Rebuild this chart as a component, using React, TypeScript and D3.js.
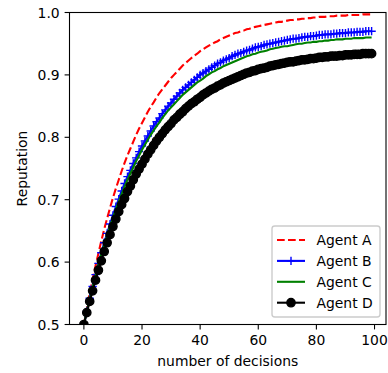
import React from 'react';
import * as d3 from 'd3';

const agentA = [0.500,0.525,0.549,0.572,0.594,0.614,0.634,0.653,0.670,0.687,
0.703,0.718,0.732,0.746,0.759,0.771,0.782,0.793,0.804,0.814,
0.823,0.832,0.841,0.849,0.856,0.864,0.871,0.877,0.883,0.889,
0.895,0.900,0.905,0.910,0.915,0.919,0.923,0.927,0.931,0.934,
0.938,0.941,0.944,0.947,0.949,0.952,0.954,0.957,0.959,0.961,
0.963,0.965,0.967,0.968,0.970,0.971,0.973,0.974,0.976,0.977,
0.978,0.979,0.980,0.981,0.982,0.983,0.984,0.985,0.985,0.986,
0.987,0.988,0.988,0.989,0.989,0.990,0.990,0.991,0.991,0.992,
0.992,0.993,0.993,0.993,0.994,0.994,0.994,0.995,0.995,0.995,
0.995,0.996,0.996,0.996,0.996,0.996,0.997,0.997,0.997,0.997];

const agentB = [0.500,0.521,0.542,0.561,0.580,0.598,0.615,0.631,0.646,0.661,
0.675,0.689,0.701,0.714,0.726,0.737,0.747,0.758,0.767,0.777,
0.786,0.794,0.802,0.810,0.818,0.825,0.831,0.838,0.844,0.850,
0.855,0.861,0.866,0.871,0.876,0.880,0.884,0.888,0.892,0.896,
0.900,0.903,0.906,0.909,0.912,0.915,0.918,0.920,0.923,0.925,
0.927,0.930,0.932,0.934,0.935,0.937,0.939,0.940,0.942,0.944,
0.945,0.946,0.948,0.949,0.950,0.951,0.952,0.953,0.954,0.955,
0.956,0.957,0.958,0.958,0.959,0.960,0.961,0.961,0.962,0.962,
0.963,0.964,0.964,0.965,0.965,0.965,0.966,0.966,0.967,0.967,
0.967,0.968,0.968,0.968,0.969,0.969,0.969,0.970,0.970,0.970];

const agentC = [0.500,0.521,0.541,0.560,0.578,0.596,0.612,0.628,0.643,0.658,
0.671,0.685,0.697,0.709,0.721,0.732,0.742,0.752,0.762,0.771,
0.780,0.788,0.796,0.804,0.811,0.818,0.824,0.831,0.837,0.843,
0.848,0.853,0.858,0.863,0.868,0.872,0.876,0.880,0.884,0.888,
0.891,0.894,0.898,0.901,0.904,0.906,0.909,0.911,0.914,0.916,
0.918,0.920,0.922,0.924,0.926,0.928,0.930,0.931,0.933,0.934,
0.936,0.937,0.938,0.939,0.941,0.942,0.943,0.944,0.945,0.946,
0.946,0.947,0.948,0.949,0.950,0.950,0.951,0.952,0.952,0.953,
0.953,0.954,0.954,0.955,0.955,0.956,0.956,0.957,0.957,0.957,
0.958,0.958,0.958,0.959,0.959,0.959,0.959,0.960,0.960,0.960];

const agentD = [0.500,0.519,0.537,0.554,0.571,0.587,0.602,0.617,0.631,0.644,
0.657,0.669,0.681,0.692,0.702,0.713,0.722,0.732,0.741,0.749,
0.757,0.765,0.773,0.780,0.787,0.794,0.800,0.806,0.812,0.817,
0.822,0.828,0.832,0.837,0.841,0.846,0.850,0.854,0.857,0.861,
0.864,0.868,0.871,0.874,0.877,0.879,0.882,0.884,0.887,0.889,
0.891,0.893,0.895,0.897,0.899,0.901,0.903,0.904,0.906,0.907,
0.909,0.910,0.911,0.912,0.914,0.915,0.916,0.917,0.918,0.919,
0.920,0.921,0.921,0.922,0.923,0.924,0.924,0.925,0.926,0.926,
0.927,0.928,0.928,0.929,0.929,0.930,0.930,0.930,0.931,0.931,
0.932,0.932,0.932,0.933,0.933,0.933,0.934,0.934,0.934,0.934];

const xTicks = [0, 20, 40, 60, 80, 100];
const yTicks = [0.5, 0.6, 0.7, 0.8, 0.9, 1.0];
const legendLabels = ['Agent A', 'Agent B', 'Agent C', 'Agent D'];
const xLabel = 'number of decisions';
const yLabel = 'Reputation';

const FONT = '"DejaVu Sans", sans-serif';
const FS = 13.9;

export default function App() {
  const W = 388, H = 373;
  const L = 69.5, R = 386, T = 12.5, B = 324.5;
  const x = d3.scaleLinear().domain([-4.95, 103.95]).range([L, R]);
  const y = d3.scaleLinear().domain([0.5, 1.0]).range([B, T]);
  const lineGen = d3.line<number>().x((_, i) => x(i)).y(d => y(d));
  const tickLen = 4.9;
  const ms = 8.3;
  const half = ms / 2;

  const plusPath = (cx: number, cy: number) =>
    `M${cx - half},${cy}H${cx + half}M${cx},${cy - half}V${cy + half}`;

  const legendRows = [
    { label: legendLabels[0], color: '#ff0000', dash: '7.7,3.3', marker: 'none' },
    { label: legendLabels[1], color: '#0000ff', dash: undefined, marker: 'plus' },
    { label: legendLabels[2], color: '#008000', dash: undefined, marker: 'none' },
    { label: legendLabels[3], color: '#000000', dash: undefined, marker: 'circle' },
  ];
  const lgL = 272, lgT = 226, lgR = 380, lgB = 317;
  const rowY = (i: number) => 240 + i * 20.9;
  const hx0 = 277, hx1 = 305;

  return (
    <svg width={W} height={H} style={{ position: 'absolute', left: 0, top: 0, background: '#fff' }}
      fontFamily={FONT}>
      <defs>
        <clipPath id="plotclip">
          <rect x={L} y={T} width={R - L} height={B - T} />
        </clipPath>
      </defs>
      <rect x={0} y={0} width={W} height={H} fill="#fff" />
      <g clipPath="url(#plotclip)">
        <path d={lineGen(agentA) || ''} fill="none" stroke="#ff0000" strokeWidth={2.1} strokeDasharray="7.7,3.3" />
        <path d={lineGen(agentB) || ''} fill="none" stroke="#0000ff" strokeWidth={2.1} />
        <path d={agentB.map((v, i) => plusPath(x(i), y(v))).join('')} fill="none" stroke="#0000ff" strokeWidth={1.4} />
        <path d={lineGen(agentC) || ''} fill="none" stroke="#008000" strokeWidth={2.1} />
        <path d={lineGen(agentD) || ''} fill="none" stroke="#000000" strokeWidth={2.1} />
        {agentD.map((v, i) => (
          <circle key={i} cx={x(i)} cy={y(v)} r={half} fill="#000" stroke="#000" strokeWidth={1.39} />
        ))}
      </g>
      {/* spines */}
      <rect x={L} y={T} width={R - L} height={B - T} fill="none" stroke="#000" strokeWidth={1.1} />
      {/* x ticks */}
      {xTicks.map(t => (
        <g key={'x' + t}>
          <line x1={x(t)} x2={x(t)} y1={B} y2={B + tickLen} stroke="#000" strokeWidth={1.1} />
          <text x={x(t)} y={B + tickLen + 4.9 + 10.6} fontSize={FS} textAnchor="middle" fill="#000">{t}</text>
        </g>
      ))}
      {/* y ticks */}
      {yTicks.map(t => (
        <g key={'y' + t}>
          <line x1={L - tickLen} x2={L} y1={y(t)} y2={y(t)} stroke="#000" strokeWidth={1.1} />
          <text x={L - tickLen - 4.9} y={y(t) + 5.1} fontSize={FS} textAnchor="end" fill="#000">{t.toFixed(1)}</text>
        </g>
      ))}
      <text x={(L + R) / 2} y={366} fontSize={FS} textAnchor="middle" fill="#000">{xLabel}</text>
      <text transform={`translate(27,${(T + B) / 2}) rotate(-90)`} fontSize={FS} textAnchor="middle" fill="#000">{yLabel}</text>
      {/* legend */}
      <rect x={lgL} y={lgT} width={lgR - lgL} height={lgB - lgT} rx={2.8} ry={2.8}
        fill="#fff" fillOpacity={0.8} stroke="#cccccc" strokeWidth={1.39} />
      {legendRows.map((r, i) => {
        const cy = rowY(i);
        const cx = (hx0 + hx1) / 2;
        return (
          <g key={r.label}>
            <line x1={hx0} x2={hx1} y1={cy} y2={cy} stroke={r.color} strokeWidth={2.1} strokeDasharray={r.dash} />
            {r.marker === 'plus' && <path d={plusPath(cx, cy)} stroke={r.color} strokeWidth={1.4} fill="none" />}
            {r.marker === 'circle' && <circle cx={cx} cy={cy} r={half} fill={r.color} stroke={r.color} strokeWidth={1.39} />}
            <text x={316.5} y={cy + 5} fontSize={FS} fill="#000">{r.label}</text>
          </g>
        );
      })}
    </svg>
  );
}
